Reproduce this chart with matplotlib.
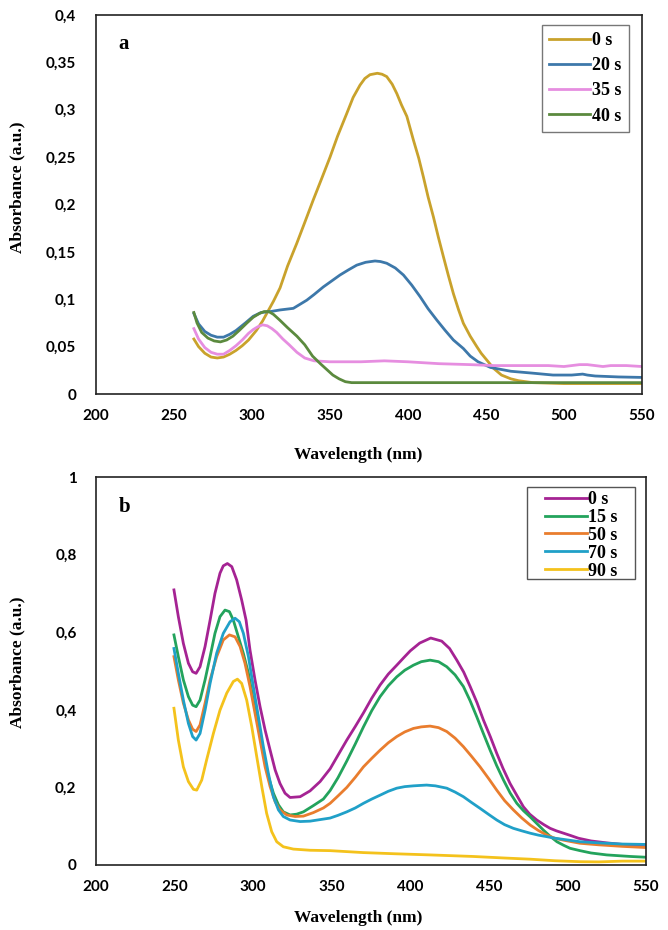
import matplotlib
matplotlib.use("Agg")
import matplotlib.pyplot as plt
from matplotlib.ticker import FuncFormatter
from matplotlib.patches import Rectangle

# ---------------- Panel a data ----------------
a_labels = ["0 s", "20 s", "35 s", "40 s"]
a_colors = ["#c9a22c", "#3d78aa", "#e68ee0", "#5b8a3e"]

a0_x = [263, 266, 270, 274, 278, 282, 286, 290, 294, 298, 303, 307, 310, 314, 318.2, 323, 328.9, 334, 339.5, 345, 350.2, 355, 360.9, 365, 369.4, 372.5, 375.8, 380.5, 383.5, 386.5, 390, 393, 396, 399.4, 403.6, 407, 410, 413, 416.4, 419.5, 422.8, 426, 429.2, 432.5, 435.6, 440, 444.2, 447, 450, 455, 460, 466, 471, 480, 500, 520, 550]
a0_y = [0.058, 0.050, 0.043, 0.039, 0.038, 0.039, 0.042, 0.046, 0.051, 0.057, 0.067, 0.077, 0.086, 0.098, 0.112, 0.135, 0.159, 0.181, 0.205, 0.228, 0.250, 0.272, 0.296, 0.313, 0.326, 0.333, 0.337, 0.3385, 0.3375, 0.335, 0.327, 0.317, 0.305, 0.293, 0.268, 0.249, 0.229, 0.208, 0.187, 0.166, 0.145, 0.125, 0.106, 0.089, 0.0746, 0.061, 0.050, 0.043, 0.037, 0.027, 0.020, 0.016, 0.014, 0.012, 0.011, 0.011, 0.011]

a1_x = [263, 266, 270, 274, 278, 282, 286, 290, 296, 301, 306, 312, 318.2, 326.7, 335.3, 340, 345.9, 351, 356.6, 362, 367.3, 373, 379, 382.5, 386.5, 392, 397.2, 402.5, 407.9, 413, 418.6, 424, 429.2, 435.6, 440, 445, 453, 466, 480, 493, 505, 512, 515, 520, 535, 550]
a1_y = [0.085, 0.074, 0.066, 0.062, 0.060, 0.060, 0.063, 0.067, 0.075, 0.082, 0.086, 0.087, 0.0887, 0.0904, 0.099, 0.105, 0.113, 0.119, 0.1256, 0.131, 0.136, 0.139, 0.1404, 0.1398, 0.138, 0.133, 0.1256, 0.115, 0.1027, 0.090, 0.078, 0.067, 0.057, 0.048, 0.040, 0.034, 0.028, 0.024, 0.022, 0.020, 0.020, 0.021, 0.020, 0.019, 0.018, 0.0175]

a2_x = [263, 266, 270, 274, 278, 282, 286, 290, 294, 298, 301, 304, 307, 310, 313, 316, 320, 324, 329, 334, 340, 350, 360, 370, 385, 400, 420, 440, 455, 470, 490, 500, 510, 515, 525, 530, 540, 550]
a2_y = [0.069, 0.058, 0.049, 0.044, 0.042, 0.042, 0.046, 0.051, 0.057, 0.064, 0.068, 0.071, 0.073, 0.072, 0.069, 0.065, 0.058, 0.052, 0.044, 0.038, 0.035, 0.034, 0.034, 0.034, 0.035, 0.034, 0.032, 0.031, 0.030, 0.030, 0.030, 0.029, 0.031, 0.031, 0.029, 0.030, 0.030, 0.029]

a3_x = [263, 265, 268, 272, 276, 280, 284, 288, 292, 297, 301, 305, 308, 311, 314, 318, 323, 329, 334, 339, 344, 348, 352, 356, 360, 364, 370, 400, 450, 500, 550]
a3_y = [0.086, 0.075, 0.065, 0.059, 0.056, 0.055, 0.057, 0.061, 0.067, 0.075, 0.081, 0.085, 0.087, 0.087, 0.084, 0.078, 0.070, 0.061, 0.052, 0.040, 0.032, 0.026, 0.020, 0.016, 0.013, 0.012, 0.012, 0.012, 0.012, 0.012, 0.012]

# ---------------- Panel b data ----------------
b_labels = ["0 s", "15 s", "50 s", "70 s", "90 s"]
b_colors = ["#a52393", "#23a35c", "#e97d2e", "#20a0c8", "#f4c21c"]

b0_x = [249.6, 252.4, 255.6, 258.8, 261.5, 263.7, 266.2, 269.4, 272.6, 275.7, 278.9, 281, 283.6, 286.4, 289.5, 292.7, 295.5, 298, 301.2, 304.4, 307.6, 310.8, 314, 317.1, 320.3, 323.5, 329.9, 336.2, 342.6, 349, 354, 359.6, 365, 370.2, 375.5, 380.8, 386, 391.4, 396, 400, 406, 413, 420, 425, 429.6, 434, 438.1, 442.5, 446.5, 451, 455, 459, 463.5, 468, 472, 476, 480.5, 485, 489, 493, 497.5, 502, 507, 515, 525, 540, 550]
b0_y = [0.709, 0.640, 0.571, 0.520, 0.498, 0.494, 0.511, 0.563, 0.631, 0.700, 0.752, 0.771, 0.777, 0.769, 0.735, 0.683, 0.631, 0.554, 0.477, 0.408, 0.348, 0.296, 0.245, 0.210, 0.185, 0.174, 0.176, 0.191, 0.215, 0.248, 0.283, 0.322, 0.357, 0.392, 0.430, 0.464, 0.492, 0.515, 0.535, 0.552, 0.572, 0.585, 0.577, 0.558, 0.528, 0.497, 0.460, 0.418, 0.374, 0.330, 0.288, 0.249, 0.210, 0.178, 0.150, 0.131, 0.116, 0.104, 0.0945, 0.088, 0.082, 0.076, 0.069, 0.062, 0.057, 0.051, 0.047]

b1_x = [249.6, 252.4, 255.6, 258.8, 261.5, 263.7, 266.2, 269.4, 272.6, 275.7, 278.9, 282.1, 284.9, 287.4, 290.6, 293.8, 297, 300.1, 303.3, 306.5, 309.7, 312.9, 316.1, 319.2, 323.5, 327.7, 332, 338.3, 344.7, 349, 354, 359.6, 365, 370.2, 375.5, 380.8, 386, 391.4, 396.5, 402, 407, 412.6, 418, 423.2, 428.5, 433.8, 438, 442.3, 446.5, 450.8, 455, 459.3, 463.5, 467.8, 472, 476.3, 480.5, 484.7, 489, 493.3, 497.5, 501.7, 508, 515, 525, 540, 550]
b1_y = [0.593, 0.537, 0.477, 0.434, 0.412, 0.408, 0.425, 0.477, 0.537, 0.597, 0.640, 0.657, 0.653, 0.631, 0.588, 0.545, 0.494, 0.425, 0.357, 0.288, 0.228, 0.185, 0.155, 0.137, 0.129, 0.131, 0.137, 0.153, 0.170, 0.192, 0.225, 0.268, 0.312, 0.356, 0.398, 0.434, 0.462, 0.485, 0.502, 0.515, 0.524, 0.528, 0.524, 0.511, 0.490, 0.460, 0.424, 0.382, 0.339, 0.296, 0.256, 0.219, 0.186, 0.159, 0.140, 0.124, 0.107, 0.090, 0.074, 0.060, 0.051, 0.043, 0.037, 0.031, 0.026, 0.022, 0.020]

b2_x = [249.6, 252.4, 255.6, 258.8, 261.5, 263.7, 266.2, 269.4, 272.6, 276.8, 281, 284.9, 288.5, 291.7, 294.8, 298, 301.2, 304.4, 307.6, 310.8, 314, 317.1, 321.4, 326.7, 332, 338.3, 344.7, 349, 354, 359.6, 365, 370.2, 375.5, 380.8, 386, 391.4, 396.5, 402, 407, 412.6, 418, 423.2, 428.5, 433.8, 439, 444.4, 450, 455, 460, 465.6, 471, 476.3, 481.5, 486.9, 492, 497.5, 508, 520, 535, 550]
b2_y = [0.537, 0.477, 0.417, 0.374, 0.350, 0.344, 0.361, 0.417, 0.477, 0.537, 0.580, 0.593, 0.588, 0.563, 0.520, 0.460, 0.391, 0.322, 0.253, 0.202, 0.163, 0.142, 0.129, 0.125, 0.126, 0.135, 0.147, 0.159, 0.178, 0.200, 0.226, 0.253, 0.275, 0.296, 0.315, 0.331, 0.343, 0.352, 0.356, 0.358, 0.354, 0.344, 0.327, 0.305, 0.280, 0.253, 0.222, 0.193, 0.166, 0.142, 0.121, 0.103, 0.089, 0.077, 0.069, 0.064, 0.056, 0.052, 0.048, 0.045]

b3_x = [249.6, 252.4, 255.6, 258.8, 261.5, 263.7, 266.2, 269.4, 272.6, 276.8, 281, 285.3, 288.5, 291.2, 293.8, 297, 300.1, 303.3, 306.5, 309.7, 312.9, 316.1, 319.2, 323.5, 329.9, 336.2, 342.6, 349, 354, 359.6, 365, 370.2, 375.5, 380.8, 386, 391.4, 396.5, 402, 406, 410.4, 416, 423.2, 428.5, 433.8, 439, 444.4, 450, 455, 460, 465.6, 471, 476.3, 481.5, 486.9, 492, 497.5, 508, 520, 535, 550]
b3_y = [0.558, 0.494, 0.425, 0.365, 0.331, 0.322, 0.339, 0.399, 0.468, 0.546, 0.597, 0.627, 0.636, 0.627, 0.597, 0.537, 0.460, 0.383, 0.305, 0.236, 0.176, 0.142, 0.125, 0.116, 0.112, 0.113, 0.117, 0.121, 0.128, 0.137, 0.147, 0.159, 0.170, 0.180, 0.190, 0.198, 0.202, 0.204, 0.205, 0.206, 0.204, 0.198, 0.188, 0.176, 0.161, 0.146, 0.130, 0.116, 0.104, 0.0945, 0.088, 0.082, 0.077, 0.073, 0.069, 0.066, 0.060, 0.057, 0.054, 0.053]

b4_x = [249.6, 252.4, 255.6, 258.8, 262, 264.1, 267.3, 270.4, 274.7, 278.9, 283.2, 287.4, 290, 292.7, 295.9, 299.1, 302.3, 305.5, 308.6, 311.8, 315, 319.2, 325.6, 336.2, 349, 370, 390, 412.6, 440, 460, 476.3, 492, 508, 520, 535, 550]
b4_y = [0.404, 0.322, 0.253, 0.215, 0.195, 0.193, 0.219, 0.271, 0.339, 0.399, 0.443, 0.473, 0.479, 0.468, 0.425, 0.357, 0.279, 0.202, 0.133, 0.086, 0.060, 0.047, 0.041, 0.038, 0.037, 0.032, 0.029, 0.026, 0.022, 0.018, 0.015, 0.011, 0.0085, 0.008, 0.010, 0.010]

a_series = [(a0_x, a0_y), (a1_x, a1_y), (a2_x, a2_y), (a3_x, a3_y)]
b_series = [(b0_x, b0_y), (b1_x, b1_y), (b2_x, b2_y), (b3_x, b3_y), (b4_x, b4_y)]

x_ticks = [200, 250, 300, 350, 400, 450, 500, 550]
a_yticks = [0, 0.05, 0.1, 0.15, 0.2, 0.25, 0.3, 0.35, 0.4]
b_yticks = [0, 0.2, 0.4, 0.6, 0.8, 1.0]

W, H = 668, 930
fig = plt.figure(figsize=(W / 100, H / 100), dpi=100)

SERIF = "Liberation Serif"
SANS = "Lato"


def comma_fmt(v, pos):
    s = ("%.2f" % v).rstrip("0").rstrip(".")
    return s.replace(".", ",")


def px_axes(l, r, t, b):
    return fig.add_axes([l / W, 1 - b / H, (r - l) / W, (b - t) / H])


def style(ax, yticks, ymax, letter):
    ax.set_xlim(200, 550)
    ax.set_ylim(0, ymax)
    ax.set_xticks(x_ticks)
    ax.set_yticks(yticks)
    ax.yaxis.set_major_formatter(FuncFormatter(comma_fmt))
    ax.tick_params(length=0)
    ax.tick_params(axis="y", pad=14)
    ax.tick_params(axis="x", pad=11)
    for lab in ax.get_xticklabels() + ax.get_yticklabels():
        lab.set_fontfamily(SANS)
        lab.set_fontweight("bold")
        lab.set_fontsize(11)
    for sp in ax.spines.values():
        sp.set_linewidth(1.2)
        sp.set_color("#222222")
    ax.set_xlabel("Wavelength (nm)", fontfamily=SERIF, fontweight="bold", fontsize=12.5, va="center")
    ax.set_ylabel("Absorbance (a.u.)", fontfamily=SERIF, fontweight="bold", fontsize=12.5, va="center")
    ax.text(0.052, 0.923, letter, transform=ax.transAxes, fontfamily=SERIF,
            fontweight="bold", fontsize=15, ha="center", va="center")


# Panel a
ax1 = px_axes(95.5, 642, 15, 394)
for (x, y), c, lab in zip(a_series, a_colors, a_labels):
    ax1.plot(x, y, color=c, lw=2.0, label=lab)
style(ax1, a_yticks, 0.4, "a")
ax1.xaxis.set_label_coords((358 - 95.5) / 546.5, -(455 - 394) / 379)
ax1.yaxis.set_label_coords(-(95.5 - 17) / 546.5, (394 - 187) / 379)
leg1 = ax1.legend(loc="upper right", bbox_to_anchor=((629 - 95.5) / 546.5, (394 - 25) / 379),
                  borderaxespad=0, prop=dict(family=SERIF, weight="bold", size=13),
                  handlelength=2.3, handletextpad=0.1, labelspacing=0.45,
                  fancybox=False, framealpha=1, borderpad=0.4)
leg1.get_frame().set_edgecolor("#777777")
leg1.get_frame().set_linewidth(1.0)

# Panel b
ax2 = px_axes(96, 646, 477, 865)
for (x, y), c, lab in zip(b_series, b_colors, b_labels):
    ax2.plot(x, y, color=c, lw=2.0, label=lab)
style(ax2, b_yticks, 1.0, "b")
ax2.xaxis.set_label_coords((358 - 96) / 550, -(918 - 865) / 388)
ax2.yaxis.set_label_coords(-(96 - 17) / 550, (865 - 662) / 388)
# legend frame for panel b (wider horizontal padding than rows)
ax2.add_patch(Rectangle((527 / W, 1 - 579 / H), (635 - 527) / W, (579 - 487) / H,
                        transform=fig.transFigure, fill=True, facecolor="white",
                        edgecolor="#555555", linewidth=1.0, zorder=4, clip_on=False))
leg2 = ax2.legend(loc="upper left", bbox_to_anchor=((545 - 96) / 550, (865 - 491) / 388),
                  borderaxespad=0, prop=dict(family=SERIF, weight="bold", size=13),
                  handlelength=2.3, handletextpad=0.1, labelspacing=0.05,
                  frameon=False, borderpad=0.0)
leg2.set_zorder(10)

fig.savefig("out.png", dpi=100)
